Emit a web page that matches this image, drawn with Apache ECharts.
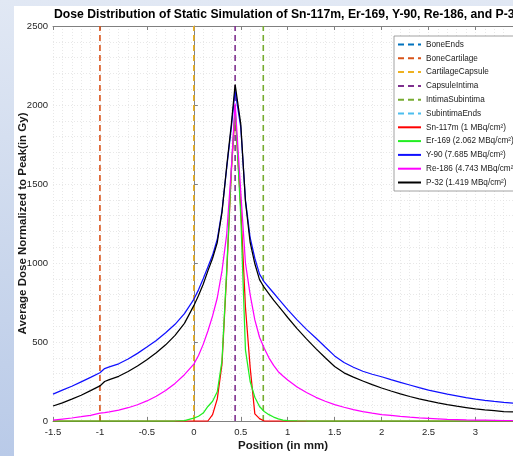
<!DOCTYPE html>
<html>
<head>
<meta charset="utf-8">
<script src="https://cdn.jsdelivr.net/npm/echarts@6/dist/echarts.min.js"></script>
<style>
  html, body { margin: 0; padding: 0; }
  body {
    width: 513px; height: 456px; overflow: hidden;
    background: linear-gradient(180deg, #e1e8f4 0%, #c9d6ec 60%, #b9cae8 100%);
  }
  #chart { position: absolute; left: 14px; top: 6px; width: 499px; height: 450px; background: #fff; }
</style>
</head>
<body>
<div id="chart"></div>
<script>
// positions along the joint (mm)
const positions = [
  -1.5, -1.4, -1.3, -1.2, -1.1, -1.0, -0.95, -0.9, -0.8, -0.7, -0.6, -0.5, -0.4, -0.3, -0.2, -0.1,
  0, 0.05, 0.1, 0.15, 0.2, 0.25, 0.3, 0.35, 0.4, 0.44, 0.5, 0.55, 0.6, 0.65, 0.7, 0.75, 0.8, 0.85, 0.9, 0.95, 1.0,
  1.1, 1.2, 1.3, 1.4, 1.5, 1.6, 1.7, 1.8, 1.9, 2.0, 2.1, 2.2, 2.3, 2.4, 2.5, 2.6, 2.7, 2.8, 2.9, 3.0, 3.1, 3.2, 3.3, 3.4
];

const sn117m = [
  0, 0, 0, 0, 0, 0, 0, 0, 0, 0, 0, 0, 0, 0, 0, 0,
  0, 0, 0, 0, 40, 140, 360, 930, 1580, 1960, 1350, 720, 340, 45, 15, 0, 0, 0, 0, 0, 0,
  0, 0, 0, 0, 0, 0, 0, 0, 0, 0, 0, 0, 0, 0, 0, 0, 0, 0, 0, 0, 0, 0, 0, 0
];

const er169 = [
  0, 0, 0, 0, 0, 0, 0, 0, 0, 0, 0, 0, 0, 0, 0, 3,
  18, 30, 50, 92, 125, 185, 380, 950, 1600, 1990, 1300, 450, 250, 150, 92, 60, 40, 25, 13, 6, 3,
  1, 0, 0, 0, 0, 0, 0, 0, 0, 0, 0, 0, 0, 0, 0, 0, 0, 0, 0, 0, 0, 0, 0, 0
];

const y90 = [
  170, 195, 220, 248, 276, 305, 332, 343, 362, 392, 428, 468, 510, 558, 612, 680,
  770, 830, 900, 975, 1050, 1150, 1330, 1600, 1860, 2090, 1860, 1400, 1160, 1030, 930, 880, 845, 810, 775, 740, 705,
  640, 580, 525, 468, 412, 370, 340, 315, 296, 280, 262, 245, 228, 211, 196, 183, 170, 159, 148, 139, 131, 124, 118, 113
];

const re186 = [
  5, 12, 19, 27, 36, 50, 53, 58, 69, 84, 103, 127, 157, 193, 238, 293,
  360, 415, 485, 570, 665, 780, 950, 1180, 1600, 2010, 1450, 1000, 800, 640, 530, 460, 400, 352, 312, 285, 260,
  215, 180, 150, 125, 104, 87, 72, 60, 50, 41, 35, 29, 24, 20, 17, 14, 11, 9, 7, 6, 5, 4, 3, 3
];

const p32 = [
  95, 115, 138, 163, 192, 222, 250, 262, 283, 313, 348, 388, 432, 482, 542, 618,
  730, 795, 865, 950, 1030, 1130, 1320, 1610, 1880, 2130, 1880, 1390, 1130, 995, 895, 845, 805, 765, 728, 692, 655,
  585, 520, 458, 400, 345, 305, 278, 253, 230, 209, 190, 172, 155, 140, 127, 115, 104, 94, 85, 76, 70, 65, 60, 57
];

// tissue boundaries (mm)
const boundaryNames = ["BoneEnds", "BoneCartilage", "CartilageCapsule", "CapsuleIntima", "IntimaSubintima", "SubintimaEnds"];
const boundaryPos = [-2, -1, 0, 0.44, 0.74, 4.5];
const boundaryColors = ["#0072BD", "#D95319", "#EDB120", "#7E2F8E", "#77AC30", "#4DBEEE"];

const curveNames = [
  "Sn-117m (1 MBq/cm²)", "Er-169 (2.062 MBq/cm²)", "Y-90 (7.685 MBq/cm²)",
  "Re-186 (4.743 MBq/cm²)", "P-32 (1.419 MBq/cm²)"
];
const curveData = [sn117m, er169, y90, re186, p32];
const curveColors = ["#ff0000", "#22ee22", "#1010ff", "#ff00ff", "#000000"];

const FONT = "'Liberation Sans', Arial, sans-serif";
const chart = echarts.init(document.getElementById("chart"));

const series = [];
boundaryNames.forEach((name, i) => {
  series.push({
    name, type: "line", symbol: "none", silent: true,
    data: [[boundaryPos[i], 0], [boundaryPos[i], 2500]],
    lineStyle: { color: boundaryColors[i], width: 1.6, type: [6, 4] },
    itemStyle: { color: boundaryColors[i] }
  });
});
curveNames.forEach((name, i) => {
  series.push({
    name, type: "line", symbol: "none", silent: true,
    data: positions.map((x, j) => [x, curveData[i][j]]),
    lineStyle: { color: curveColors[i], width: 1.25 },
    itemStyle: { color: curveColors[i] }
  });
});

const splitStyle = { color: "#e2e2e2", width: 0.8, type: [1, 2] };
const plainNum = v => String(v);

chart.setOption({
  animation: false,
  textStyle: { fontFamily: FONT },
  title: {
    text: "Dose Distribution of Static Simulation of Sn-117m, Er-169, Y-90, Re-186, and P-32",
    left: 40, top: 3, padding: 0,
    textStyle: { fontSize: 12.2, fontWeight: "bold", color: "#000", fontFamily: FONT }
  },
  legend: {
    orient: "vertical", left: 380, top: 30,
    data: boundaryNames.concat(curveNames),
    itemWidth: 23, itemHeight: 8, itemGap: 5.8,
    padding: [4.5, 40, 4.5, 3],
    itemStyle: { opacity: 0 },
    backgroundColor: "#fff", borderColor: "#8c8c8c", borderWidth: 0.8,
    textStyle: { fontSize: 8.2, color: "#1a1a1a", fontFamily: FONT }
  },
  grid: { left: 39, top: 20, right: 0, bottom: 35, outerBoundsMode: "none", containLabel: false },
  xAxis: [{
    type: "value", min: -1.5, max: 3.4, interval: 0.5,
    name: "Position (in mm)", nameLocation: "middle", nameGap: 19, nameMoveOverlap: false,
    nameTextStyle: { fontSize: 11.5, fontWeight: "bold", color: "#1a1a1a" },
    axisLine: { lineStyle: { color: "#808080" } },
    axisTick: { inside: true, length: 4, lineStyle: { color: "#808080" } },
    axisLabel: { fontSize: 9.5, color: "#262626", margin: 6, showMaxLabel: false, formatter: plainNum },
    splitLine: { show: true, lineStyle: splitStyle },
    minorTick: { show: false, splitNumber: 5 },
    minorSplitLine: { show: true, lineStyle: splitStyle }
  }, {
    type: "value", position: "top", min: -1.5, max: 3.4, interval: 0.5,
    axisLine: { show: true, lineStyle: { color: "#808080" } },
    axisTick: { show: true, inside: true, length: 4, lineStyle: { color: "#808080" } },
    axisLabel: { show: false }, splitLine: { show: false }
  }],
  yAxis: {
    type: "value", min: 0, max: 2500, interval: 500,
    name: "Average Dose Normalized to Peak(in Gy)", nameLocation: "middle", nameGap: 24, nameMoveOverlap: false,
    nameTextStyle: { fontSize: 11.5, fontWeight: "bold", color: "#1a1a1a" },
    axisLine: { show: true, lineStyle: { color: "#808080" } },
    axisTick: { show: true, inside: true, length: 4, lineStyle: { color: "#808080" } },
    axisLabel: { fontSize: 9.5, color: "#262626", margin: 5, formatter: plainNum },
    splitLine: { show: true, lineStyle: splitStyle },
    minorTick: { show: false, splitNumber: 5 },
    minorSplitLine: { show: true, lineStyle: splitStyle }
  },
  series
});
</script>
</body>
</html>
